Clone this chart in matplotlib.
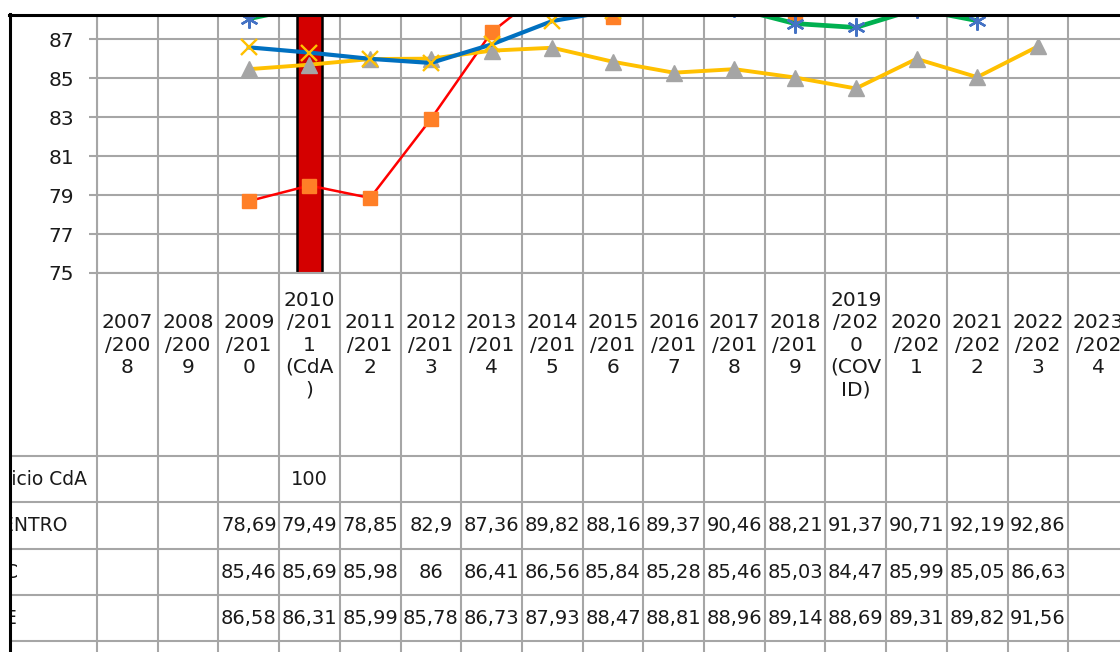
import numpy as np
import matplotlib
matplotlib.use("Agg")
import matplotlib.pyplot as plt
from matplotlib import transforms
from matplotlib.patches import Rectangle
from matplotlib.lines import Line2D

nan = np.nan
categories = ["2007\n/200\n8", "2008\n/200\n9", "2009\n/201\n0", "2010\n/201\n1\n(CdA\n)",
              "2011\n/201\n2", "2012\n/201\n3", "2013\n/201\n4", "2014\n/201\n5",
              "2015\n/201\n6", "2016\n/201\n7", "2017\n/201\n8", "2018\n/201\n9",
              "2019\n/202\n0\n(COV\nID)", "2020\n/202\n1", "2021\n/202\n2", "2022\n/202\n3",
              "2023\n/202\n4"]
inicio_cda = [nan, nan, nan, 100, nan, nan, nan, nan, nan, nan, nan, nan, nan, nan, nan, nan, nan]
centro = [nan, nan, 78.69, 79.49, 78.85, 82.9, 87.36, 89.82, 88.16, 89.37, 90.46, 88.21, 91.37, 90.71, 92.19, 92.86, nan]
serie_c = [nan, nan, 85.46, 85.69, 85.98, 86, 86.41, 86.56, 85.84, 85.28, 85.46, 85.03, 84.47, 85.99, 85.05, 86.63, nan]
serie_e = [nan, nan, 86.58, 86.31, 85.99, 85.78, 86.73, 87.93, 88.47, 88.81, 88.96, 89.14, 88.69, 89.31, 89.82, 91.56, nan]
# fifth series (row cut off in the picture) - estimated from visible part
serie_5 = [nan, nan, 88.05, 88.7, 89.3, 89.6, 89.9, 90.2, 90.4, 90.1, 88.6, 87.8, 87.6, 88.55, 87.95, nan, nan]
row_labels = ["Inicio CdA", "CENTRO", "C", "E"]
yticks = [75, 77, 79, 81, 83, 85, 87]

plt.rcParams['font.family'] = ['DejaVu Sans']
W, H = 1120, 652
fig = plt.figure(figsize=(W / 100, H / 100), dpi=100)
fig.patch.set_facecolor('white')

def fx(px):
    return px / W

def fy(py):
    return 1 - py / H

GRID = '#A6A6A6'
TXT = '#1A1A1A'
x = np.arange(len(categories))

ax = fig.add_axes([fx(97), fy(273), fx(1129) - fx(97), fy(15) - fy(273)])
ax.set_xlim(-0.5, len(categories) - 0.5)
ax.set_ylim(75, 88.24)
for s in ['top', 'right']:
    ax.spines[s].set_visible(False)
for s in ['left', 'bottom']:
    ax.spines[s].set_color(GRID)
    ax.spines[s].set_linewidth(1.5)
ax.set_yticks(yticks)
ax.set_yticklabels([str(v) for v in yticks], fontsize=14.5, color=TXT)
ax.tick_params(axis='y', length=5.5, width=1.5, color=GRID, pad=11)
ax.set_xticks([])
ax.set_xticks(np.arange(-0.5, len(categories), 1), minor=True)
ax.tick_params(axis='x', which='both', length=0, labelbottom=False)
ax.grid(True, axis='y', color=GRID, linewidth=1.5, zorder=0)
ax.grid(True, axis='x', which='minor', color=GRID, linewidth=1.5, zorder=0)
ax.set_axisbelow(True)

ax.bar(x, np.nan_to_num(np.array(inicio_cda), nan=0), width=0.4, color='#D40000',
       edgecolor='black', linewidth=1.8, zorder=2)
ax.plot(x, centro, color='#FF0000', lw=1.8, marker='s', ms=10, mfc='#FF7F27',
        mec='#FF7F27', zorder=3)
ax.plot(x, serie_c, color='#FFC000', lw=2.8, marker='^', ms=11.5, mfc='#A5A5A5',
        mec='#A5A5A5', zorder=4)
ax.plot(x, serie_e, color='#0070C0', lw=3.0, marker='x', ms=11, mec='#FFC000',
        mew=1.7, zorder=5)
ax.plot(x, serie_5, color='#00B050', lw=3.4, marker=(6, 2, 0), ms=13, mec='#4472C4',
        mew=1.7, zorder=6)

# data table
tax = fig.add_axes([fx(97), 0, fx(1129) - fx(97), fy(273)])
tax.set_xlim(-0.5, len(categories) - 0.5)
tax.set_ylim(H, 273)
tax.axis('off')
trans = transforms.blended_transform_factory(fig.transFigure, tax.transData)

for xb in np.arange(-0.5, len(categories), 1):
    tax.plot([xb, xb], [273, H], color=GRID, lw=1.5, clip_on=False)
row_lines = [456, 502, 549, 595, 641]
for yl in row_lines:
    tax.plot([fx(9), 1.0], [yl, yl], color=GRID, lw=1.5, transform=trans, clip_on=False)

for i, lab in enumerate(categories):
    tax.text(i, 345, lab, ha='center', va='center', fontsize=14.5, color=TXT,
             linespacing=1.22, multialignment='center', clip_on=False)

rows = [inicio_cda, centro, serie_c, serie_e]
row_centers = [479, 525.5, 572, 618]
label_right = [87, 67, 18, 16]
for vals, yc, lab, lr in zip(rows, row_centers, row_labels, label_right):
    tax.text(fx(lr), yc, lab, ha='right', va='center', fontsize=13.5, color=TXT,
             transform=trans, clip_on=False)
    for i, v in enumerate(vals):
        if not np.isnan(v):
            s = f"{v:g}".replace('.', ',')
            tax.text(i, yc, s, ha='center', va='center', fontsize=14, color=TXT, clip_on=False)

# crop mask and frame
fig.patches.append(Rectangle((0, 0), fx(9), 1, transform=fig.transFigure,
                             facecolor='white', edgecolor='none', zorder=100))
fig.patches.append(Rectangle((0, fy(14)), 1, 1 - fy(14), transform=fig.transFigure,
                             facecolor='white', edgecolor='none', zorder=100))
fig.lines.append(Line2D([fx(10), fx(10)], [0, fy(14)], transform=fig.transFigure,
                        color='black', lw=2.2, zorder=101))
fig.lines.append(Line2D([fx(9), 1], [fy(15), fy(15)], transform=fig.transFigure,
                        color='black', lw=2.2, zorder=101))

fig.savefig('out.png', dpi=100, facecolor='white')
